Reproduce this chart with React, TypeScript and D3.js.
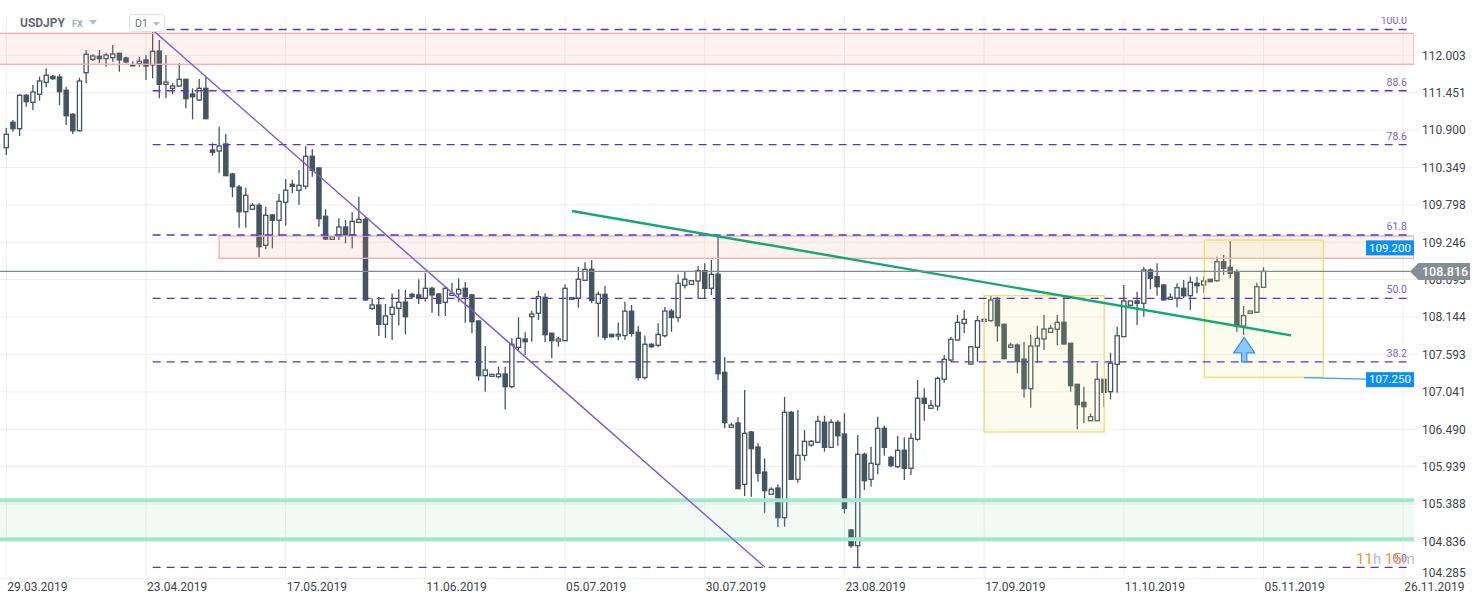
import React from 'react';
import * as d3 from 'd3';

// ---------- DATA ----------
const opens = [110.640,111.014,110.920,111.412,111.309,111.427,111.604,111.692,111.682,111.486,111.132,110.890,111.745,111.943,111.987,111.952,111.966,112.031,111.962,111.863,111.878,111.933,111.859,112.065,111.574,111.515,111.549,111.648,111.431,111.343,111.515,110.606,110.591,110.694,110.252,110.060,109.696,109.732,109.791,109.201,109.648,109.570,109.835,110.100,110.012,110.071,110.513,110.341,109.629,109.289,109.334,109.471,109.348,109.540,109.584,108.272,108.321,108.036,108.184,108.272,108.365,108.479,108.469,108.420,108.567,108.483,108.361,108.464,108.483,108.567,108.469,108.085,107.279,107.270,107.264,107.304,107.117,107.697,107.820,108.149,108.199,108.434,107.904,107.790,107.795,108.405,108.420,108.685,108.847,108.346,108.479,107.889,107.864,107.871,108.230,107.919,107.252,107.742,107.727,107.868,108.232,108.137,108.611,108.626,108.675,108.827,108.567,108.775,107.329,106.518,106.582,105.678,106.449,106.228,105.859,105.531,105.623,105.186,106.739,105.752,106.105,106.257,106.297,106.592,106.223,106.592,106.419,105.004,104.773,106.120,105.752,105.973,106.503,106.076,105.937,106.179,105.914,106.341,106.946,106.798,106.832,107.226,107.510,107.805,108.051,107.451,107.697,108.081,108.090,108.395,108.036,107.697,107.731,107.525,107.087,107.717,107.820,107.918,107.963,108.066,107.756,107.152,106.887,106.615,106.615,107.226,107.043,107.447,107.854,108.317,108.380,108.346,108.837,108.738,108.616,108.405,108.420,108.567,108.458,108.641,108.616,108.700,108.679,108.959,108.877,108.797,108.011,108.199,108.214,108.582];
const highs = [110.935,111.048,111.427,111.427,111.564,111.686,111.810,111.711,111.722,111.539,111.147,111.672,112.080,112.017,112.080,112.040,112.154,112.040,111.981,111.913,111.981,112.006,112.375,112.227,112.006,111.589,111.884,111.652,111.515,111.652,111.677,110.705,110.949,110.842,110.271,110.090,110.050,109.825,109.825,109.770,109.662,109.957,110.178,110.164,110.311,110.665,110.616,110.351,109.732,109.328,109.599,109.574,109.687,109.917,109.623,108.420,108.443,108.336,108.490,108.552,108.542,108.503,108.700,108.797,108.591,108.498,108.591,108.650,108.714,108.660,108.483,108.100,107.717,107.304,107.411,107.411,107.830,108.140,107.918,108.232,108.527,108.493,107.908,107.854,108.626,108.434,108.881,108.952,108.984,108.520,108.601,107.893,108.063,108.370,108.321,108.011,107.871,107.756,108.051,108.292,108.265,108.771,108.812,108.682,108.896,108.936,108.984,109.338,107.554,106.586,106.666,107.068,106.464,106.282,106.061,105.634,105.678,106.965,106.758,106.773,106.478,106.331,106.689,106.689,106.636,106.626,106.725,105.019,106.405,106.144,106.232,106.674,106.542,106.100,106.390,106.371,106.430,107.215,107.093,106.921,107.264,107.584,107.854,108.174,108.247,107.717,108.159,108.115,108.454,108.446,108.048,107.766,107.756,107.780,107.879,108.016,108.174,108.026,108.174,108.443,107.761,107.156,107.117,106.724,107.462,107.230,107.618,108.001,108.616,108.380,108.517,108.886,108.862,108.936,108.623,108.493,108.641,108.690,108.738,108.738,108.738,108.704,109.033,109.058,109.264,108.847,108.306,108.232,108.650,108.877];
const lows = [110.532,110.876,110.812,111.244,111.195,111.333,111.530,111.638,111.269,110.974,110.842,110.879,111.589,111.918,111.884,111.834,111.908,111.760,111.884,111.844,111.834,111.638,111.663,111.368,111.368,111.427,111.539,111.221,111.058,111.328,111.063,110.517,110.271,110.223,109.909,109.460,109.460,109.721,109.024,109.142,109.157,109.343,109.490,109.968,109.799,110.027,110.212,109.475,109.279,109.279,109.279,109.230,109.157,109.525,108.384,108.247,107.864,107.835,107.805,108.019,107.889,108.420,108.336,108.370,108.208,108.159,108.159,108.461,108.370,108.060,107.904,107.205,107.043,107.263,107.240,106.784,107.093,107.647,107.584,107.780,108.100,107.771,107.535,107.706,107.790,108.402,108.281,108.675,108.346,107.854,107.801,107.839,107.801,107.805,107.854,107.208,107.220,107.691,107.697,107.842,107.927,108.070,108.564,108.623,108.410,108.424,108.469,107.215,106.504,106.515,105.609,105.505,105.495,105.716,105.259,105.528,105.044,105.053,105.741,105.701,106.026,106.232,106.282,106.158,106.216,106.247,105.250,104.743,104.440,105.594,105.643,105.825,106.100,105.929,105.914,105.741,105.815,106.321,106.615,106.795,106.763,107.176,107.485,107.798,107.904,107.444,107.485,108.078,108.075,107.780,107.525,107.683,107.314,106.955,106.805,107.470,107.658,107.916,107.731,107.738,107.043,106.489,106.577,106.611,106.611,106.822,106.931,107.028,107.849,108.314,108.026,108.149,108.552,108.458,108.387,108.395,108.287,108.420,108.247,108.493,108.502,108.660,108.664,108.763,108.714,107.927,107.879,108.196,108.211,108.579];
const closes = [110.837,110.920,111.412,111.318,111.461,111.623,111.707,111.657,111.465,111.111,110.890,111.623,112.017,111.992,111.952,112.006,112.021,111.933,111.903,111.846,111.913,111.844,112.061,111.574,111.608,111.549,111.648,111.362,111.392,111.515,111.067,110.572,110.665,110.227,110.065,109.696,109.938,109.791,109.180,109.643,109.570,109.850,110.012,110.071,110.085,110.513,110.307,109.593,109.294,109.328,109.471,109.348,109.555,109.584,108.395,108.321,108.036,108.159,108.287,108.361,108.149,108.443,108.420,108.567,108.469,108.346,108.567,108.493,108.552,108.443,108.075,107.279,107.363,107.299,107.304,107.117,107.742,107.830,107.780,108.188,108.443,107.883,107.795,107.820,108.567,108.429,108.700,108.847,108.387,108.479,107.842,107.854,107.889,108.230,107.901,107.252,107.742,107.706,107.889,108.232,108.137,108.641,108.700,108.679,108.827,108.567,108.773,107.308,106.586,106.552,105.613,106.430,106.203,105.840,105.584,105.604,105.186,106.739,105.752,106.105,106.312,106.312,106.607,106.223,106.592,106.394,105.324,104.773,106.120,105.731,105.988,106.503,106.223,105.952,106.179,105.914,106.356,106.946,106.872,106.842,107.240,107.520,107.815,108.066,108.110,107.706,108.090,108.110,108.395,108.014,107.529,107.731,107.485,107.087,107.717,107.830,107.967,107.977,108.066,107.746,107.131,106.851,106.822,106.674,107.226,107.034,107.462,107.868,108.380,108.380,108.346,108.837,108.715,108.591,108.395,108.434,108.576,108.458,108.656,108.605,108.675,108.664,108.959,108.862,108.788,108.011,108.163,108.232,108.591,108.816];

const xTickLabels = ['29.03.2019','23.04.2019','17.05.2019','11.06.2019','05.07.2019','30.07.2019','23.08.2019','17.09.2019','11.10.2019','05.11.2019','26.11.2019'];
const xTickIndex = [0,21,42,63,84,105,126,147,168,189,210];
const yTicks = [112.003,111.451,110.900,110.349,109.798,109.246,108.695,108.144,107.593,107.041,106.490,105.939,105.388,104.836,104.285];

const fibLevels = [100.0, 88.6, 78.6, 61.8, 50.0, 38.2, 0.0];
const fibHigh = 112.382;
const fibLow = 104.454;
const fibStartIndex = 22;
const fibEndIndex = 211;

const lastPrice = 108.816;
const blueLabels = [109.200, 107.250];
const blueRayStart = 195.1;

const pinkZoneTop = [112.326, 111.869];
const pinkZoneTopStart = -2;
const pinkZoneMid = [109.338, 109.009];
const pinkZoneMidStart = 32;
const greenZone = [105.442, 104.867];

const yellowBoxStart = [147.0, 180.1];
const yellowBoxEnd = [165.06, 198.0];
const yellowBoxTop = [108.458, 109.279];
const yellowBoxBottom = [106.449, 107.255];

const downTrendIdx = [22, 114.06];
const downTrendPx = [112.375, 104.454];
const greenTrendIdx = [85.04, 193.13];
const greenTrendPx = [109.707, 107.874];

const arrowIdx = 186.1;
const arrowPx = 107.844;

// ---------- LAYOUT ----------
const W = 1482, H = 604;
const plotTop = 17, plotBottom = 579, plotRight = 1414;
const x = d3.scaleLinear().domain([0, 210]).range([6.3, 1403.2]);
const y = d3.scaleLinear().domain([104.285, 112.003]).range([578.8, 55.2]);

const FONT = 'Roboto, "Noto Sans", sans-serif';
const BEAR = '#45555f';
const BULL_STROKE = '#45555f';
const PURPLE = '#5a33c8';

export default function App() {
  const candles = opens.map((o, i) => ({ i, o, h: highs[i], l: lows[i], c: closes[i] }));
  const bw = 4.2;
  const fibRange = fibHigh - fibLow;
  const lastY = y(lastPrice);

  const arrowX = x(arrowIdx);
  const arrowY = y(arrowPx);
  const arrowPath = `M${arrowX},${arrowY} L${arrowX + 10.5},${arrowY + 15.5} L${arrowX + 2.6},${arrowY + 15.5} L${arrowX + 2.6},${arrowY + 24.5} L${arrowX - 2.6},${arrowY + 24.5} L${arrowX - 2.6},${arrowY + 15.5} L${arrowX - 10.5},${arrowY + 15.5} Z`;

  const line = d3.line<[number, number]>().x(d => d[0]).y(d => d[1]);

  return (
    <svg width={W} height={H} style={{ position: 'absolute', left: 0, top: 0, background: '#fff' }} fontFamily={FONT}>
      <defs>
        <clipPath id="plot"><rect x={0} y={plotTop} width={plotRight} height={plotBottom - plotTop} /></clipPath>
      </defs>
      {/* grid */}
      <g stroke="#efefef" strokeWidth={1}>
        {yTicks.map((t, k) => <line key={'gy' + k} x1={0} x2={1418} y1={y(t)} y2={y(t)} />)}
        {xTickIndex.map((t, k) => <line key={'gx' + k} x1={x(t)} x2={x(t)} y1={plotTop} y2={plotBottom} />)}
      </g>

      <g clipPath="url(#plot)">
        {/* candles */}
        {candles.map(d => {
          const cx = x(d.i);
          const bull = d.c >= d.o;
          const top = y(Math.max(d.o, d.c));
          const bot = y(Math.min(d.o, d.c));
          return (
            <g key={d.i}>
              <line x1={cx} x2={cx} y1={y(d.h)} y2={y(d.l)} stroke={BEAR} strokeWidth={1.3} />
              <rect x={cx - bw / 2} y={top} width={bw} height={Math.max(bot - top, 1)}
                fill={bull ? '#ffffff' : BEAR} stroke={bull ? BULL_STROKE : BEAR} strokeWidth={1.3} />
            </g>
          );
        })}

        {/* pink zones */}
        <rect x={x(pinkZoneTopStart)} y={y(pinkZoneTop[0])} width={plotRight - x(pinkZoneTopStart)} height={y(pinkZoneTop[1]) - y(pinkZoneTop[0])}
          fill="rgba(245,150,140,0.12)" stroke="#f6aca8" strokeWidth={1.3} />
        <rect x={x(pinkZoneMidStart)} y={y(pinkZoneMid[0])} width={plotRight - x(pinkZoneMidStart)} height={y(pinkZoneMid[1]) - y(pinkZoneMid[0])}
          fill="rgba(245,150,140,0.12)" stroke="#f6aca8" strokeWidth={1.3} />

        {/* green zone */}
        <rect x={0} y={y(greenZone[0])} width={plotRight} height={y(greenZone[1]) - y(greenZone[0])} fill="rgba(120,215,175,0.11)" />
        <line x1={0} x2={plotRight} y1={y(greenZone[0])} y2={y(greenZone[0])} stroke="#a6e6ce" strokeWidth={4} />
        <line x1={0} x2={plotRight} y1={y(greenZone[1])} y2={y(greenZone[1])} stroke="#a6e6ce" strokeWidth={4} />

        {/* yellow boxes */}
        {yellowBoxStart.map((s, k) => (
          <rect key={'yb' + k} x={x(s)} y={y(yellowBoxTop[k])} width={x(yellowBoxEnd[k]) - x(s)} height={y(yellowBoxBottom[k]) - y(yellowBoxTop[k])}
            fill="rgba(240,228,120,0.13)" stroke="#f1dd7a" strokeWidth={1.4} />
        ))}

        {/* fib levels */}
        {fibLevels.map((f, k) => {
          const p = fibLow + (f / 100) * fibRange;
          const yy = y(p);
          return (
            <g key={'fib' + k}>
              <line x1={x(fibStartIndex)} x2={x(fibEndIndex)} y1={yy} y2={yy} stroke={PURPLE} strokeWidth={1.4} strokeDasharray="8,6" />
              <text x={1407} y={yy - 5} fontSize={10.5} fill="#7b5fcc" textAnchor="end">{f.toFixed(1)}</text>
            </g>
          );
        })}

        {/* trendlines */}
        <path d={line([[x(downTrendIdx[0]), y(downTrendPx[0])], [x(downTrendIdx[1]), y(downTrendPx[1])]]) || ''} stroke="#7a58d8" strokeWidth={1.4} fill="none" />
        <path d={line([[x(greenTrendIdx[0]), y(greenTrendPx[0])], [x(greenTrendIdx[1]), y(greenTrendPx[1])]]) || ''} stroke="#16a874" strokeWidth={2.4} fill="none" />

        {/* current price line */}
        <line x1={0} x2={1410} y1={lastY} y2={lastY} stroke="#7f8c90" strokeWidth={1.4} />

        {/* blue ray */}
        <line x1={x(blueRayStart)} x2={1366} y1={y(blueLabels[1])} y2={y(blueLabels[1]) + 1.5} stroke="#3ba0f2" strokeWidth={1.3} />

        {/* arrow */}
        <path d={arrowPath} fill="#8ec6f3" stroke="#2a95ee" strokeWidth={1.2} />

        {/* countdown */}
        <text x={1356} y={564} fontSize={15} fill="#f7941d">
          <tspan>11</tspan><tspan fill="#b9bcbf">h </tspan><tspan>15</tspan><tspan fill="#b9bcbf">m</tspan>
        </text>
      </g>

      {/* blue labels */}
      {blueLabels.map((b, k) => (
        <g key={'bl' + k}>
          <rect x={1366} y={y(b) - 7 + (k === 1 ? 1.5 : 2)} width={48} height={15} fill="#0b8ff2" />
          <text x={1390} y={y(b) + 4.3 + (k === 1 ? 1.5 : 2)} fontSize={11.5} fill="#fff" textAnchor="middle">{b.toFixed(3)}</text>
        </g>
      ))}

      {/* y axis labels */}
      {yTicks.map((t, k) => (
        <text key={'yl' + k} x={1422} y={Math.min(y(t), 573) + 4.3} fontSize={12} fill="#3d4449">{t.toFixed(3)}</text>
      ))}

      {/* last price label */}
      <path d={`M1410,${lastY} L1418.5,${lastY - 8.3} L1470,${lastY - 8.3} L1470,${lastY + 8.7} L1418.5,${lastY + 8.7} Z`} fill="#858f93" />
      <text x={1422} y={lastY + 4.6} fontSize={12.5} fontWeight={500} fill="#fff">{lastPrice.toFixed(3)}</text>

      {/* x axis labels */}
      {xTickLabels.map((lab, k) => (
        <text key={'xl' + k} x={x(xTickIndex[k]) + 1} y={591} fontSize={12} fill="#3d4449">{lab}</text>
      ))}

      {/* header */}
      <text x={20} y={27} fontSize={12} fontWeight={700} fill="#5f6a72">USDJPY</text>
      <text x={72} y={27} fontSize={9} fontWeight={700} fill="#a3adb4">FX</text>
      <path d="M89,20 L97,20 L93,25 Z" fill="#b7bec3" />
      <rect x={129.5} y={14.5} width={35} height={17} rx={3} fill="#fff" stroke="#dfe3e6" strokeWidth={1} />
      <text x={135} y={27} fontSize={10.5} fill="#6c7880">D1</text>
      <path d="M153,22 L160,22 L156.5,26 Z" fill="#b7bec3" />
    </svg>
  );
}
